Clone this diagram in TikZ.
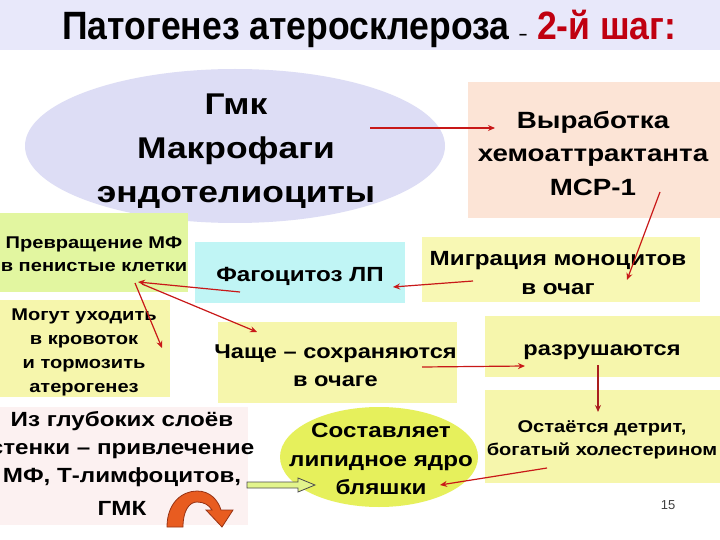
\documentclass[tikz,border=0pt]{standalone}
\usepackage{fontspec}
\setmainfont{Liberation Sans}
\newfontfamily\bodyfont[FakeStretch=1.18]{Liberation Sans}
\newfontfamily\titlefont[FakeStretch=0.9]{Liberation Sans}
\usetikzlibrary{arrows.meta,shapes.geometric}
\definecolor{band}{RGB}{232,232,250}
\definecolor{lav}{RGB}{221,221,245}
\definecolor{peach}{RGB}{252,228,214}
\definecolor{limeA}{RGB}{226,246,160}
\definecolor{ylwA}{RGB}{246,246,172}
\definecolor{ylwB}{RGB}{248,248,180}
\definecolor{cyanA}{RGB}{192,245,245}
\definecolor{limeB}{RGB}{230,240,92}
\definecolor{pinkA}{RGB}{252,241,241}
\definecolor{titlered}{RGB}{192,0,16}
\definecolor{arrred}{RGB}{200,24,24}
\definecolor{arrdark}{RGB}{170,30,30}
\definecolor{orangeA}{RGB}{232,92,32}
\definecolor{orangeD}{RGB}{150,50,20}
\definecolor{lgreen}{RGB}{226,244,140}
\begin{document}
\begin{tikzpicture}[x=1pt,y=-1pt,
  rect/.style={draw=none,inner sep=0pt,outer sep=0pt},
  txt/.style={inner sep=0pt,align=center,text=black},
  redarrow/.style={draw=arrred,line width=1.2pt,-{Stealth[length=7pt,width=6pt]}},
]
\useasboundingbox (0,0) rectangle (720,540);
\fill[white] (0,0) rectangle (720,540);
% title band
\node[rect,fill=band,minimum width=720pt,minimum height=50pt,anchor=north west] (band) at (0,0) {};
\node[anchor=base west,inner sep=0pt,font=\titlefont\bfseries\fontsize{39.5}{39.5}\selectfont] (title) at (62,40)
  {Патогенез атеросклероза {\fontsize{16}{16}\selectfont –} \textcolor{titlered}{2-й шаг:}};
% shapes
\node[ellipse,fill=lav,draw=none,minimum width=420pt,minimum height=154pt,inner sep=0pt] (ell) at (235,146) {};
\node[rect,fill=peach,minimum width=252pt,minimum height=136pt] (vyr) at (594,150) {};
\node[rect,fill=limeA,minimum width=188pt,minimum height=79pt] (prev) at (94,252.5) {};
\node[rect,fill=cyanA,minimum width=210pt,minimum height=61pt] (fag) at (300,272.5) {};
\node[rect,fill=ylwB,minimum width=278pt,minimum height=65pt] (migr) at (561,269.5) {};
\node[rect,fill=ylwA,minimum width=170pt,minimum height=97pt] (mog) at (85,348.5) {};
\node[rect,fill=ylwA,minimum width=239pt,minimum height=81pt] (chas) at (337.5,362.5) {};
\node[rect,fill=ylwA,minimum width=235pt,minimum height=61pt] (razr) at (602.5,346.5) {};
\node[rect,fill=ylwA,minimum width=235pt,minimum height=93pt] (ost) at (602.5,436.5) {};
\node[rect,fill=pinkA,minimum width=248pt,minimum height=118pt] (izgl) at (124,466) {};
\node[ellipse,fill=limeB,draw=none,minimum width=198pt,minimum height=100pt,inner sep=0pt] (sost) at (379,457) {};
% texts
\node[txt,font=\bodyfont\bfseries\fontsize{30}{44}\selectfont] (ellt) at (236,151) {Гмк\\Макрофаги\\эндотелиоциты};
\node[txt,font=\bodyfont\bfseries\fontsize{23.5}{33.5}\selectfont] (vyrt) at (593,153) {Выработка\\хемоаттрактанта\\MCP-1};
\node[txt,font=\bodyfont\bfseries\fontsize{17}{23}\selectfont] (prevt) at (94,254) {Превращение МФ\\в пенистые клетки};
\node[txt,font=\bodyfont\bfseries\fontsize{20.5}{25}\selectfont] (fagt) at (300,276) {Фагоцитоз ЛП};
\node[txt,font=\bodyfont\bfseries\fontsize{20.5}{29}\selectfont] (migrt) at (558,273) {Миграция моноцитов\\в очаг};
\node[txt,font=\bodyfont\bfseries\fontsize{17}{24}\selectfont] (mogt) at (84,352) {Могут уходить\\в кровоток\\и тормозить\\атерогенез};
\node[txt,font=\bodyfont\bfseries\fontsize{20}{28}\selectfont] (chast) at (335.5,366) {Чаще – сохраняются\\в очаге};
\node[txt,font=\bodyfont\bfseries\fontsize{20}{25}\selectfont] (razrt) at (602,352) {разрушаются};
\node[txt,font=\bodyfont\bfseries\fontsize{17}{23}\selectfont] (ostt) at (602,439.5) {Остаётся детрит,\\богатый холестерином};
\node[txt,font=\bodyfont\bfseries\fontsize{20.5}{28.5}\selectfont] (sostt) at (381,459) {Составляет\\липидное ядро\\бляшки};
\node[txt,font=\bodyfont\bfseries\fontsize{20.5}{28}\selectfont] (izglt) at (122,463) {Из глубоких слоёв\\стенки – привлечение\\МФ, Т-лимфоцитов,\\[5pt]ГМК};
\node[inner sep=0pt,font=\fontsize{13}{13}\selectfont,text=black!75] (pnum) at (668,505) {15};
% arrow end points
\coordinate (a1s) at (370,128); \coordinate (a1e) at (495,128);
\coordinate (a2s) at (660,192); \coordinate (a2e) at (627,280);
\coordinate (a3s) at (473,281); \coordinate (a3e) at (393,287);
\coordinate (a4s) at (240,292); \coordinate (a4e) at (138,282);
\coordinate (a5s) at (135,283); \coordinate (a5e) at (162,348);
\coordinate (a6s) at (142,284); \coordinate (a6e) at (257,332);
\coordinate (a7s) at (422,367); \coordinate (a7e) at (525,366);
\coordinate (a8s) at (598,365); \coordinate (a8e) at (598,412);
\coordinate (a9s) at (547,468); \coordinate (a9e) at (440,485);
% arrows
\draw[redarrow] (a1s) -- (a1e);
\draw[redarrow] (a2s) -- (a2e);
\draw[redarrow] (a3s) -- (a3e);
\draw[redarrow] (a4s) -- (a4e);
\draw[redarrow] (a5s) -- (a5e);
\draw[redarrow] (a6s) -- (a6e);
\draw[redarrow] (a7s) -- (a7e);
\draw[redarrow,draw=arrdark] (a8s) -- (a8e);
\draw[redarrow] (a9s) -- (a9e);
% green block arrow
\draw[fill=lgreen,draw=black!70,line width=0.8pt,line join=miter]
  (247,482) -- (298,482) -- (298,478) -- (315,485) -- (298,492) -- (298,488) -- (247,488) -- cycle;
% orange curved arrow
\draw[fill=orangeA,draw=orangeD,line width=0.8pt,line join=miter]
  (167,527) .. controls (167,503) and (182,491) .. (197,491)
  .. controls (210,491) and (218,500) .. (221,510)
  -- (233,510) -- (222,527) -- (206,510) -- (212,510)
  .. controls (209,505) and (204,502) .. (197,502)
  .. controls (189,502) and (183,511) .. (183,527) -- cycle;
\end{tikzpicture}
\end{document}
